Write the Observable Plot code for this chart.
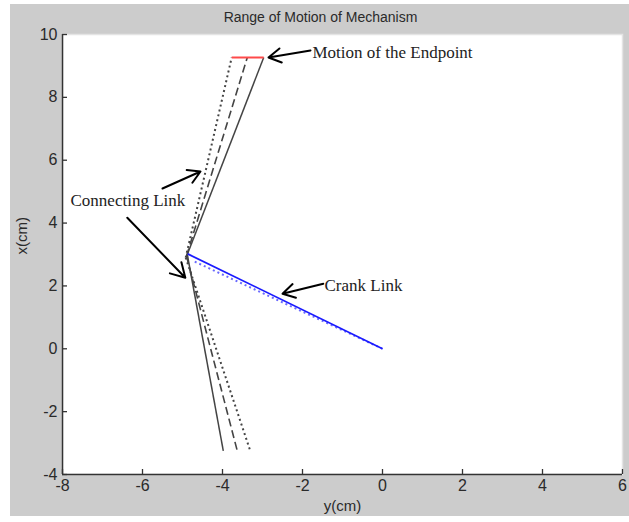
<!DOCTYPE html>
<html>
<head>
<meta charset="utf-8">
<script src="https://cdn.jsdelivr.net/npm/d3@7"></script>
<script src="https://cdn.jsdelivr.net/npm/@observablehq/plot@0.6"></script>
<style>
  html, body { margin: 0; padding: 0; background: #ffffff; }
  #chart { position: absolute; left: 10px; top: 4px; width: 619px; height: 512px; background: #cccccc; }
  #chart svg { display: block; }
</style>
</head>
<body>
<div id="chart"></div>
<script>
// ---- Data ----
const titleText = "Range of Motion of Mechanism";
const xLabel = "y(cm)";
const yLabel = "x(cm)";
const xTicks = [-8, -6, -4, -2, 0, 2, 4, 6];
const yTicks = [-4, -2, 0, 2, 4, 6, 8, 10];

// Link segments (horizontal axis = y(cm), vertical axis = x(cm))
const segKind = ["crank", "crank", "link", "link", "link", "link", "link", "link", "endpoint"];
const segPos  = ["A", "C", "A", "B", "C", "A", "B", "C", "A"];
const segX1 = [0, 0, -4.88, -4.90, -4.92, -4.88, -4.90, -4.92, -3.77];
const segY1 = [0, 0, 3.00, 2.95, 2.90, 3.00, 2.95, 2.90, 9.27];
const segX2 = [-4.87, -4.74, -2.97, -3.38, -3.77, -3.98, -3.63, -3.30, -2.97];
const segY2 = [3.02, 2.80, 9.27, 9.27, 9.27, -3.25, -3.25, -3.27, 9.27];

// Annotations
const noteText = ["Motion of the Endpoint", "Connecting Link", "Crank Link"];
const noteX = [-1.75, -7.8, -1.45];
const noteY = [9.43, 4.72, 2.0];

// Arrows
const arrowX1 = [-1.8, -5.5, -6.38, -1.48];
const arrowY1 = [9.49, 5.1, 4.17, 2.07];
const arrowX2 = [-2.85, -4.55, -4.93, -2.5];
const arrowY2 = [9.27, 5.64, 2.26, 1.75];

// ---- Build tables ----
const segs = segKind.map((k, i) => ({kind: k, pos: segPos[i], x1: segX1[i], y1: segY1[i], x2: segX2[i], y2: segY2[i]}));
const notes = noteText.map((t, i) => ({text: t, x: noteX[i], y: noteY[i]}));
const arrows = arrowX1.map((d, i) => ({x1: d, y1: arrowY1[i], x2: arrowX2[i], y2: arrowY2[i]}));

const dash = {A: null, B: "8,4", C: "2,3"};
const width = {A: 1.5, B: 1.6, C: 2};
const linkMarks = [];
for (const pos of ["A", "B", "C"]) {
  linkMarks.push(Plot.link(segs.filter(s => s.kind === "link" && s.pos === pos), {
    x1: "x1", y1: "y1", x2: "x2", y2: "y2",
    stroke: "#444", strokeWidth: width[pos], strokeDasharray: dash[pos]
  }));
}
const crankSolid = Plot.link(segs.filter(s => s.kind === "crank" && s.pos === "A"), {
  x1: "x1", y1: "y1", x2: "x2", y2: "y2", stroke: "#1a1aff", strokeWidth: 1.7
});
const crankDotted = Plot.link(segs.filter(s => s.kind === "crank" && s.pos === "C"), {
  x1: "x1", y1: "y1", x2: "x2", y2: "y2", stroke: "#6a6aff", strokeWidth: 2, strokeDasharray: "2,3"
});
const endpoint = Plot.link(segs.filter(s => s.kind === "endpoint"), {
  x1: "x1", y1: "y1", x2: "x2", y2: "y2", stroke: "#ff4a4a", strokeWidth: 2
});

const xTickLen = 5 / 40;     // ~5px in data units
const yTickLen = 5 / 31.4;
const fmt = d => String(d);

const chart = Plot.plot({
  width: 619,
  height: 512,
  marginLeft: 52,
  marginRight: 7,
  marginTop: 30,
  marginBottom: 42,
  style: {background: "#cccccc", fontFamily: "Liberation Sans, Arial, sans-serif"},
  x: {domain: [-8, 6], ticks: xTicks, label: null},
  y: {domain: [-4, 10], ticks: yTicks, label: null},
  marks: [
    Plot.frame({fill: "white", stroke: "#e4e4e4", strokeWidth: 1.5}),
    Plot.axisX({ticks: xTicks, tickFormat: fmt, tickSize: 0, tickPadding: 5, fontSize: 16, fill: "#2a2a2a", label: null}),
    Plot.axisY({ticks: yTicks, tickFormat: fmt, tickSize: 0, tickPadding: 5, fontSize: 16, fill: "#2a2a2a", label: null}),
    Plot.ruleX(xTicks, {x: d => d, y1: -4, y2: -4 + yTickLen, stroke: "#333", strokeWidth: 1.3}),
    Plot.ruleY(yTicks, {y: d => d, x1: -8, x2: -8 + xTickLen, stroke: "#333", strokeWidth: 1.3}),
    Plot.ruleX([-8], {stroke: "#333", strokeWidth: 1.5}),
    Plot.ruleY([-4], {stroke: "#333", strokeWidth: 1.5}),
    ...linkMarks,
    crankDotted,
    crankSolid,
    endpoint,
    Plot.arrow(arrows, {x1: "x1", y1: "y1", x2: "x2", y2: "y2", stroke: "black", strokeWidth: 2, headLength: 12, bend: 0}),
    Plot.text(notes, {x: "x", y: "y", text: "text", textAnchor: "start", fontSize: 17,
      fontFamily: "Liberation Serif, Times New Roman, serif", fill: "#222"}),
    Plot.text([titleText], {frameAnchor: "top", dy: -22, dx: -22, fontSize: 14, fill: "#2a2a2a"}),
    Plot.text([xLabel], {frameAnchor: "bottom", dy: 36, fontSize: 15, fill: "#2a2a2a"}),
    Plot.text([yLabel], {frameAnchor: "left", dx: -40, rotate: -90, fontSize: 15, fill: "#2a2a2a"})
  ]
});
document.getElementById("chart").appendChild(chart);
</script>
</body>
</html>
